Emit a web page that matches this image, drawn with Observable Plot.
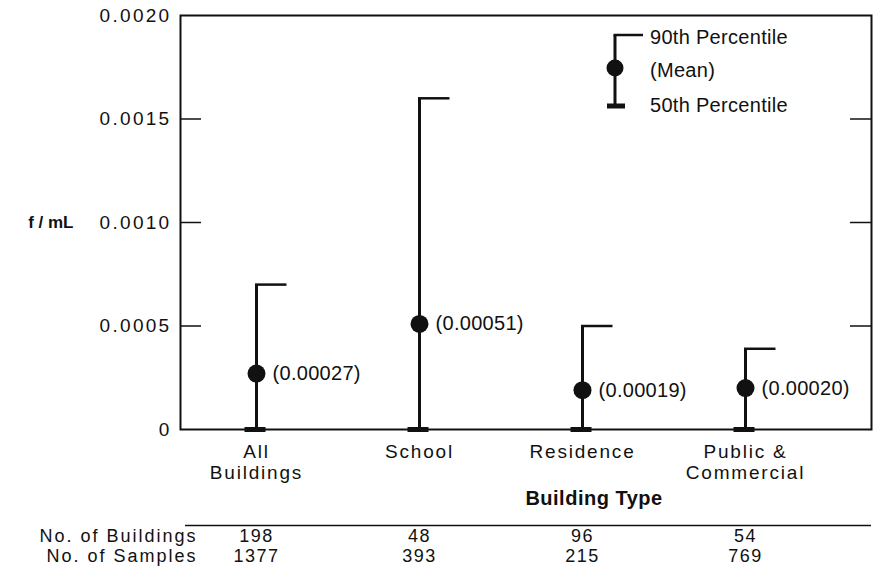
<!DOCTYPE html>
<html>
<head>
<meta charset="utf-8">
<script src="https://cdn.jsdelivr.net/npm/d3@7"></script>
<script src="https://cdn.jsdelivr.net/npm/@observablehq/plot@0.6"></script>
<style>
  html, body { margin: 0; padding: 0; background: #fff; }
  #chart { width: 873px; height: 576px; }
  svg { font-family: "Liberation Sans", Arial, Helvetica, sans-serif; }
</style>
</head>
<body>
<div id="chart"></div>
<script>
// ---- data ----
const categories = ["All\nBuildings", "School", "Residence", "Public &\nCommercial"];
const p90 = [0.00070, 0.00160, 0.00050, 0.00039];
const p50 = [0, 0, 0, 0];
const means = [0.00027, 0.00051, 0.00019, 0.00020];
const meanLabels = ["(0.00027)", "(0.00051)", "(0.00019)", "(0.00020)"];
const nBuildings = [198, 48, 96, 54];
const nSamples = [1377, 393, 215, 769];
const yTicks = [0, 0.0005, 0.0010, 0.0015, 0.0020];
const yTickLabels = ["0", "0.0005", "0.0010", "0.0015", "0.0020"];
const rowLabels = ["No. of Buildings", "No. of Samples"];
const legendLabels = ["90th Percentile", "(Mean)", "50th Percentile"];
const xTitle = "Building Type";
const yTitle = "f / mL";

const rows = categories.map((c, i) => ({
  cat: c, p90: p90[i], p50: p50[i], mean: means[i], label: meanLabels[i],
  nb: nBuildings[i], ns: nSamples[i]
}));

// custom symbols for the percentile caps
const capRight = {draw(ctx) { ctx.moveTo(-1.5, 0); ctx.lineTo(30, 0); }};
const capBottom = {draw(ctx) { ctx.moveTo(-12, 0); ctx.lineTo(9, 0); }};

const W = 873, H = 576;
const mL = 180, mR = 2, mT = 15, mB = 147;
const frameW = W - mL - mR;
const ink = "#111";

const chart = Plot.plot({
  width: W, height: H,
  marginLeft: mL, marginRight: mR, marginTop: mT, marginBottom: mB,
  style: {fontFamily: "Liberation Sans, Arial, sans-serif", color: ink, background: "#fff"},
  x: {type: "point", domain: categories, range: [255, 745], padding: 0, axis: null},
  y: {domain: [0, 0.002], axis: null},
  marks: [
    Plot.frame({stroke: ink, strokeWidth: 2}),
    // inward ticks, left and right
    Plot.ruleY(yTicks.slice(1, 4), {stroke: ink, strokeWidth: 1.5, insetRight: frameW - 21}),
    Plot.ruleY(yTicks.slice(1, 4), {stroke: ink, strokeWidth: 1.5, insetLeft: frameW - 21}),
    // y tick labels
    Plot.text(yTicks, {y: d => d, text: (d, i) => yTickLabels[i], frameAnchor: "left", dx: -9,
      textAnchor: "end", fontSize: 19, fill: ink}),
    // y title
    Plot.text([yTitle], {frameAnchor: "left", dx: -107, textAnchor: "end", fontSize: 17,
      fontWeight: "bold", fill: ink}),
    // percentile range bars
    Plot.ruleX(rows, {x: "cat", y1: "p50", y2: "p90", stroke: ink, strokeWidth: 3}),
    Plot.dot(rows, {x: "cat", y: "p90", symbol: capRight, r: 5, fill: "none", stroke: ink, strokeWidth: 2.5}),
    Plot.dot(rows, {x: "cat", y: "p50", symbol: capBottom, r: 5, fill: "none", stroke: ink, strokeWidth: 5}),
    // means
    Plot.dot(rows, {x: "cat", y: "mean", r: 9, fill: ink, stroke: "none"}),
    Plot.text(rows, {x: "cat", y: "mean", text: "label", dx: 16, textAnchor: "start",
      fontSize: 20, fill: ink}),
    // category labels
    Plot.text(rows, {x: "cat", text: "cat", frameAnchor: "bottom", dy: 14, lineAnchor: "top",
      fontSize: 19, lineHeight: 1.08, fill: ink}),
    // x title
    Plot.text([xTitle], {frameAnchor: "bottom", dx: 68, dy: 75, fontSize: 20, fontWeight: "bold", fill: ink}),
    Plot.ruleY([0], {dy: 96, insetLeft: 5, stroke: ink, strokeWidth: 1.5}),
    // table
    Plot.text([rowLabels[0]], {frameAnchor: "bottom-left", dx: 17, dy: 112, textAnchor: "end", fontSize: 18, fill: ink}),
    Plot.text([rowLabels[1]], {frameAnchor: "bottom-left", dx: 17, dy: 132, textAnchor: "end", fontSize: 18, fill: ink}),
    Plot.text(rows, {x: "cat", text: d => String(d.nb), frameAnchor: "bottom", dy: 112, fontSize: 18, fill: ink}),
    Plot.text(rows, {x: "cat", text: d => String(d.ns), frameAnchor: "bottom", dy: 132, fontSize: 18, fill: ink})
  ]
});

document.getElementById("chart").appendChild(chart);

// letter spacing per text mark (in mark order), to mimic the wide scanned lettering
const spacing = [2.3, 0, 0.3, 1.8, 0.5, 2, 2, 1.5, 1.5];
d3.select(chart).selectAll("g[aria-label='text']").each(function(d, i) {
  if (spacing[i]) d3.select(this).attr("letter-spacing", spacing[i]);
});

// legend (inside plot area, top right)
const svg = d3.select(chart);
const g = svg.append("g").attr("transform", "translate(615,35)").attr("fill", ink).attr("stroke", ink);
g.append("line").attr("x1", 0).attr("x2", 0).attr("y1", 0).attr("y2", 71).attr("stroke-width", 3);
g.append("line").attr("x1", -1.5).attr("x2", 28).attr("y1", 0).attr("y2", 0).attr("stroke-width", 2.5);
g.append("line").attr("x1", -8).attr("x2", 10).attr("y1", 71).attr("y2", 71).attr("stroke-width", 5);
g.append("circle").attr("cx", 0).attr("cy", 33).attr("r", 8.5).attr("stroke", "none");
const ly = [2, 35, 70];
legendLabels.forEach((t, i) => {
  g.append("text").attr("x", 35).attr("y", ly[i]).attr("dy", "0.35em")
    .attr("text-anchor", "start").attr("stroke", "none")
    .attr("font-size", 20).attr("letter-spacing", 0.3).text(t);
});
</script>
</body>
</html>
